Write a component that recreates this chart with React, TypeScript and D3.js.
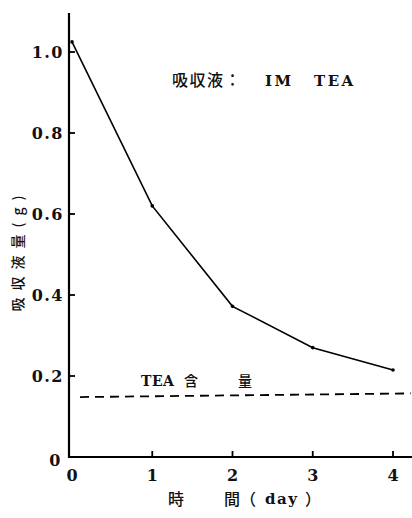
import React from "react";
import * as d3 from "d3";

const days = [0, 1, 2, 3, 4];
const absorbed = [1.025, 0.62, 0.372, 0.27, 0.215];
const teaContent = [0.148, 0.157];
const teaX = [0.1, 4.22];
const yTicks = [0, 0.2, 0.4, 0.6, 0.8, 1.0];
const yTickLabels = ["0", "0.2", "0.4", "0.6", "0.8", "1.0"];
const xTickLabels = ["0", "1", "2", "3", "4"];

const W = 412;
const H = 518;
const serif = "DejaVu Serif, serif";
const cjk = "Noto Sans CJK JP, Noto Sans CJK SC, sans-serif";

const sStyle: React.CSSProperties = { fontFamily: serif, fontWeight: 700 };
const cStyle: React.CSSProperties = { fontFamily: cjk, fontWeight: 500 };

export default function App() {
  const x = d3.scaleLinear().domain([0, 4]).range([72, 393]);
  const y = d3.scaleLinear().domain([0, 1]).range([457, 52]);
  const line = d3
    .line<number>()
    .x((_, i) => x(days[i]))
    .y((d) => y(d));
  const dash = d3
    .line<number>()
    .x((_, i) => x(teaX[i]))
    .y((d) => y(d));
  const axisX = 69;
  const axisY = y(0);
  return (
    <svg
      width={W}
      height={H}
      style={{ position: "absolute", left: 0, top: 0, background: "#fff" }}
    >
      <rect width={W} height={H} fill="#fff" />
      <line x1={axisX} y1={13} x2={axisX} y2={axisY + 1} stroke="#000" strokeWidth={2.2} />
      <line x1={axisX - 1} y1={axisY} x2={412} y2={axisY} stroke="#000" strokeWidth={2} />
      {yTicks.map((t, i) => (
        <g key={"y" + i}>
          {i > 0 && (
            <line x1={axisX} x2={axisX + 6} y1={y(t)} y2={y(t)} stroke="#000" strokeWidth={1.8} />
          )}
          <text
            x={i === 0 ? 62 : 64}
            y={y(t) + (i === 0 ? 9 : 6)}
            textAnchor="end"
            style={sStyle}
            fontSize={16}
            letterSpacing={1.5}
            fill="#111"
          >
            {yTickLabels[i]}
          </text>
        </g>
      ))}
      {days.map((d, i) => (
        <g key={"x" + i}>
          {i > 0 && (
            <line x1={x(d)} x2={x(d)} y1={axisY} y2={axisY - 6} stroke="#000" strokeWidth={1.8} />
          )}
          <text x={x(d)} y={481} textAnchor="middle" style={sStyle} fontSize={16} fill="#111">
            {xTickLabels[i]}
          </text>
        </g>
      ))}
      <path d={line(absorbed) || ""} fill="none" stroke="#000" strokeWidth={1.6} />
      {absorbed.map((v, i) => (
        <circle key={"p" + i} cx={x(days[i])} cy={y(v)} r={1.8} fill="#000" />
      ))}
      <path
        d={dash(teaContent) || ""}
        fill="none"
        stroke="#000"
        strokeWidth={1.8}
        strokeDasharray="9 6"
      />
      <text x={141} y={386} style={sStyle} fontSize={14} letterSpacing={0.5} fill="#111">
        TEA
      </text>
      <text x={184} y={386} style={cStyle} fontSize={14} fill="#111">
        含
      </text>
      <text x={238} y={386} style={cStyle} fontSize={14} fill="#111">
        量
      </text>
      <text x={172} y={86} style={cStyle} fontSize={16} letterSpacing={1.5} fill="#111">
        吸収液：
      </text>
      <text x={265} y={86} style={sStyle} fontSize={15} letterSpacing={2.5} fill="#111">
        IM
      </text>
      <text x={314} y={86} style={sStyle} fontSize={15} letterSpacing={2.5} fill="#111">
        TEA
      </text>
      <text x={168} y={505} style={cStyle} fontSize={16} fill="#111">
        時
      </text>
      <text x={224} y={505} style={cStyle} fontSize={16} fill="#111">
        間（
      </text>
      <text x={265} y={504} style={sStyle} fontSize={15} letterSpacing={1.5} fill="#111">
        day
      </text>
      <text x={305} y={505} style={cStyle} fontSize={16} fill="#111">
        ）
      </text>
      <text
        transform="translate(23,250) rotate(-90)"
        textAnchor="middle"
        style={cStyle}
        fontSize={14}
        letterSpacing={7}
        fill="#111"
      >
        吸収液量(g)
      </text>
    </svg>
  );
}
